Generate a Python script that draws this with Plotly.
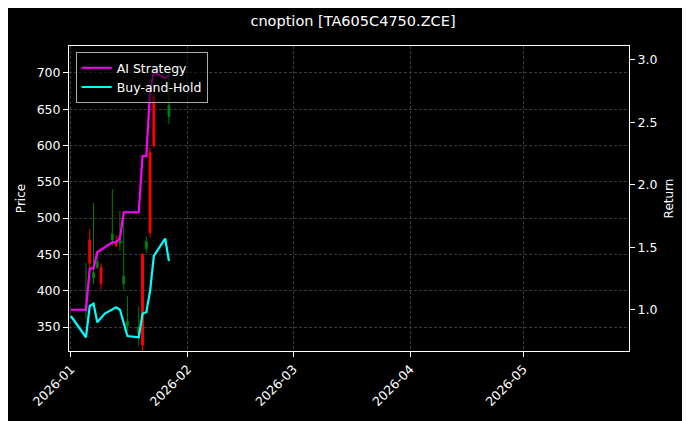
import plotly.graph_objects as go

# candles
c_dates = ["2026-01-05", "2026-01-06", "2026-01-07", "2026-01-08", "2026-01-09", "2026-01-12",
           "2026-01-13", "2026-01-14", "2026-01-15", "2026-01-16", "2026-01-19", "2026-01-20",
           "2026-01-21", "2026-01-22", "2026-01-23", "2026-01-27"]
c_open = [372, 470, 418, 432, 432, 470, 468, 465, 410, 352, 340, 450, 458, 590, 668, 640]
c_high = [438, 485, 521, 455, 438, 540, 476, 510, 500, 393, 378, 452, 475, 597, 671, 703]
c_low = [362, 430, 409, 430, 402, 462, 460, 455, 400, 345, 325, 317, 452, 473, 597, 630]
c_close = [380, 438, 425, 440, 410, 478, 462, 470, 420, 358, 350, 325, 468, 480, 600, 655]

# returns
s_dates = ["2026-01-01", "2026-01-05", "2026-01-06", "2026-01-07", "2026-01-08", "2026-01-12",
           "2026-01-13", "2026-01-14", "2026-01-15", "2026-01-19", "2026-01-20", "2026-01-21",
           "2026-01-22", "2026-01-23", "2026-01-26", "2026-01-27"]
strategy = [1.0, 1.0, 1.33, 1.33, 1.46, 1.54, 1.54, 1.57, 1.78, 1.78, 2.23, 2.23, 2.75, 2.9, 2.85, 2.88]
b_dates = ["2026-01-01", "2026-01-05", "2026-01-06", "2026-01-07", "2026-01-08", "2026-01-10",
           "2026-01-13", "2026-01-14", "2026-01-16", "2026-01-19", "2026-01-20", "2026-01-21",
           "2026-01-22", "2026-01-23", "2026-01-26", "2026-01-27"]
buyhold = [0.95, 0.78, 1.03, 1.05, 0.9, 0.97, 1.02, 1.0, 0.79, 0.78, 0.97, 0.98, 1.15, 1.43, 1.57, 1.39]

fig = go.Figure()
fig.add_trace(go.Candlestick(
    x=c_dates, open=c_open, high=c_high, low=c_low, close=c_close,
    increasing=dict(line=dict(color="green", width=1), fillcolor="green"),
    decreasing=dict(line=dict(color="red", width=1), fillcolor="red"),
    whiskerwidth=0, showlegend=False,
))
fig.add_trace(go.Scatter(x=s_dates, y=strategy, name="AI Strategy", yaxis="y2",
                         mode="lines", line=dict(color="#ff00ff", width=2.2)))
fig.add_trace(go.Scatter(x=b_dates, y=buyhold, name="Buy-and-Hold", yaxis="y2",
                         mode="lines", line=dict(color="#00ffff", width=2.2)))

grid = dict(showgrid=True, gridcolor="#3a3a3a", griddash="3px,2px", gridwidth=0.6)
fig.update_layout(
    width=690, height=421,
    paper_bgcolor="black", plot_bgcolor="black",
    font=dict(family="DejaVu Sans", color="white", size=12.5),
    title=dict(text="cnoption [TA605C4750.ZCE]", x=0.5, y=0.982, yanchor="top", xanchor="center",
               font=dict(size=14.5)),
    margin=dict(l=61, r=69, t=38, b=78),
    xaxis=dict(type="date", range=["2025-12-31 12:00", "2026-05-29"], rangeslider=dict(visible=False),
               tickformat="%Y-%m", dtick="M1", tick0="2026-01-01", tickangle=-45,
               showline=True, linecolor="white", mirror=True, ticks="outside", tickcolor="white",
               zeroline=False, automargin=False, **grid),
    yaxis=dict(title=dict(text="Price", font=dict(size=12), standoff=8), range=[317, 737], dtick=50,
               showline=True, linecolor="white", mirror=True, ticks="outside", tickcolor="white",
               zeroline=False, automargin=False, **grid),
    yaxis2=dict(title=dict(text="Return", font=dict(size=12), standoff=8), overlaying="y",
                side="right", range=[0.67, 3.11], dtick=0.5, tickformat=".1f", showgrid=False,
                zeroline=False, ticks="outside", tickcolor="white", automargin=False),
    legend=dict(x=0.012, y=0.98, xanchor="left", yanchor="top", bgcolor="rgba(0,0,0,0.6)",
                bordercolor="#aaa", borderwidth=1, font=dict(size=12.5)),
)

fig.write_html("out.html")
